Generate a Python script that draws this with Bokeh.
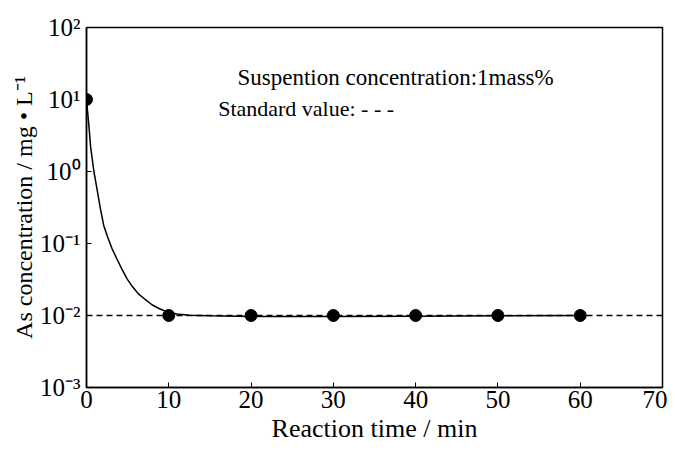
from bokeh.plotting import figure
from bokeh.models import Label, FixedTicker, ColumnDataSource, Span
from bokeh.embed import file_html
from bokeh.resources import INLINE

# measured points
time_pts = [0, 10, 20, 30, 40, 50, 60]
conc_pts = [10.0, 0.0100, 0.0100, 0.0100, 0.0100, 0.0100, 0.0100]

# fitted curve
curve_t = [0, 0.3, 0.5, 0.9, 1.3, 1.7, 2.1, 2.6, 3.1, 3.7, 4.3, 4.95, 5.6, 6.3, 7.0,
           8.0, 9.0, 10.0, 11.0, 12.5, 15.0, 20.0, 30.0, 40.0, 50.0, 60.0]
curve_c = [10.0, 4.2, 2.2, 1.0, 0.55, 0.30, 0.177, 0.12, 0.085, 0.061, 0.044, 0.032,
           0.025, 0.020, 0.0172, 0.0140, 0.0122, 0.0110, 0.0105, 0.0101, 0.0099,
           0.0097, 0.0097, 0.0098, 0.0099, 0.0100]

standard_value = 0.01
x_ticks = [0, 10, 20, 30, 40, 50, 60, 70]
y_ticks = [1e-3, 1e-2, 1e-1, 1e0, 1e1, 1e2]
y_tick_labels = ["10\u207b\u00b3", "10\u207b\u00b2", "10\u207b\u00b9", "10\u2070", "10\u00b9", "10\u00b2"]

FONT = "Liberation Serif"

p = figure(width=667, height=445, output_backend="svg", toolbar_location=None,
           y_axis_type="log", x_range=(0, 70), y_range=(1e-3, 1e2),
           min_border_left=86, min_border_right=5, min_border_top=27, min_border_bottom=56)
p.background_fill_color = "white"
p.border_fill_color = "white"
p.outline_line_color = "black"
p.outline_line_width = 1.5
p.grid.visible = False

xa = p.xaxis[0]
xa.ticker = FixedTicker(ticks=x_ticks)
xa.major_tick_in = 5
xa.major_tick_out = 0
xa.minor_tick_line_color = None
xa.axis_line_width = 1.5
xa.major_tick_line_width = 1
xa.major_label_text_font = FONT
xa.major_label_text_font_size = "25px"
xa.major_label_text_color = "black"
xa.major_label_standoff = 3
xa.axis_label = "Reaction time / min"
xa.axis_label_text_font = FONT
xa.axis_label_text_font_size = "26px"
xa.axis_label_text_font_style = "normal"
xa.axis_label_text_color = "black"
xa.axis_label_standoff = 3

ya = p.yaxis[0]
ya.ticker = FixedTicker(ticks=y_ticks, minor_ticks=[])
ya.major_tick_in = 5
ya.major_tick_out = 0
ya.minor_tick_line_color = None
ya.axis_line_width = 1.5
ya.major_tick_line_width = 1
ya.major_label_overrides = dict(zip(y_ticks, y_tick_labels))
ya.major_label_text_font = FONT
ya.major_label_text_font_size = "25px"
ya.major_label_text_color = "black"
ya.major_label_standoff = 6
ya.axis_label = "As concentration / mg \u2022 L\u207b\u00b9"
ya.axis_label_text_font = FONT
ya.axis_label_text_font_size = "24px"
ya.axis_label_text_font_style = "normal"
ya.axis_label_text_color = "black"
ya.axis_label_standoff = 0

# standard value line
p.add_layout(Span(location=standard_value, dimension="width", line_color="black",
                  line_width=1.5, line_dash="6 4"))

src_c = ColumnDataSource(dict(t=curve_t, c=curve_c))
p.line("t", "c", source=src_c, line_color="black", line_width=1.5)
src_p = ColumnDataSource(dict(t=time_pts, c=conc_pts))
p.scatter("t", "c", source=src_p, size=12, fill_color="black", line_color="black")

p.add_layout(Label(x=18.35, y=20.4, text="Suspention concentration:1mass%",
                   text_align="left", text_baseline="alphabetic",
                   text_font=FONT, text_font_size="23px", text_color="black"))
p.add_layout(Label(x=16.0, y=7.6, text="Standard value: - - -",
                   text_align="left", text_baseline="alphabetic",
                   text_font=FONT, text_font_size="22px", text_color="black"))

open("out.html", "w").write(file_html(p, INLINE))
